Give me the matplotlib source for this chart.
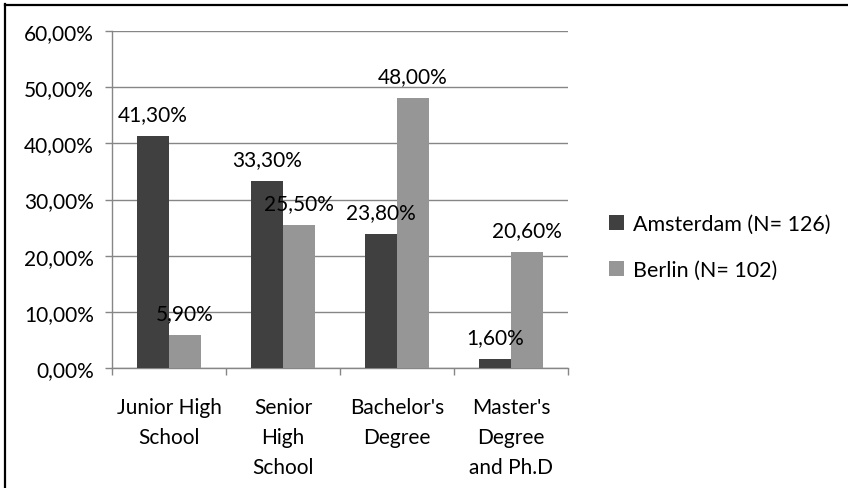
import matplotlib
matplotlib.use("Agg")
import matplotlib.pyplot as plt
from matplotlib.lines import Line2D
import numpy as np

categories = ["Junior High\nSchool", "Senior\nHigh\nSchool", "Bachelor's\nDegree", "Master's\nDegree\nand Ph.D"]
amsterdam = [41.3, 33.3, 23.8, 1.6]
berlin = [5.9, 25.5, 48.0, 20.6]
series_names = ["Amsterdam (N= 126)", "Berlin (N= 102)"]
yticks = [0, 10, 20, 30, 40, 50, 60]

plt.rcParams['font.family'] = ['Lato', 'DejaVu Sans']
FS = 15
W, H = 848, 489
fig = plt.figure(figsize=(W/100, H/100), dpi=100)
ax = fig.add_axes([112/W, 1-369/H, (568-112)/W, (369-32)/H])

x = np.arange(len(categories))
bw = 0.28
dark = "#404040"
light = "#969696"
grid = "#868686"
b1 = ax.bar(x - bw/2, amsterdam, bw, color=dark, label=series_names[0], zorder=3)
b2 = ax.bar(x + bw/2, berlin, bw, color=light, label=series_names[1], zorder=3)

for bars, vals in ((b1, amsterdam), (b2, berlin)):
    for rect, v in zip(bars, vals):
        ax.annotate(f"{v:.2f}%".replace(".", ","),
                    (rect.get_x() + rect.get_width()/2, v),
                    xytext=(0, 11.5), textcoords="offset points",
                    ha="center", va="baseline", fontsize=FS, color="black", zorder=5)

ax.set_xlim(-0.5, 3.5)
ax.set_ylim(0, 60)
ax.set_yticks(yticks)
ax.set_yticklabels([f"{t:.2f}%".replace(".", ",") for t in yticks], fontsize=FS)
ax.yaxis.grid(True, color=grid, linewidth=1, zorder=0)
ax.set_axisbelow(True)

ax.set_xticks(x)
ax.set_xticklabels(categories, fontsize=FS, linespacing=1.62)
ax.set_xticks(np.arange(-0.5, 4.0, 1.0), minor=True)
ax.tick_params(axis='x', which='major', length=0, pad=21)
ax.tick_params(axis='x', which='minor', length=5, color=grid, width=1)
ax.tick_params(axis='y', length=5, color=grid, width=1, pad=8)

for s in ["top", "right"]:
    ax.spines[s].set_visible(False)
for s in ["left", "bottom"]:
    ax.spines[s].set_color(grid)
    ax.spines[s].set_linewidth(1)

fig.legend(handles=[b1, b2], labels=series_names, loc="center left",
           bbox_to_anchor=(609/W, 1-248/H), bbox_transform=fig.transFigure,
           frameon=False, fontsize=15.5, handlelength=0.7, handleheight=0.7,
           handletextpad=0.4, labelspacing=1.2, borderpad=0, borderaxespad=0)

# chart border (left and top visible)
fig.add_artist(Line2D([4.5/W, 4.5/W], [0, 1-5/H], transform=fig.transFigure, color="black", linewidth=1.6))
fig.add_artist(Line2D([4.5/W, 1], [1-6/H, 1-6/H], transform=fig.transFigure, color="black", linewidth=1.6))

fig.savefig("out.png", dpi=100)
